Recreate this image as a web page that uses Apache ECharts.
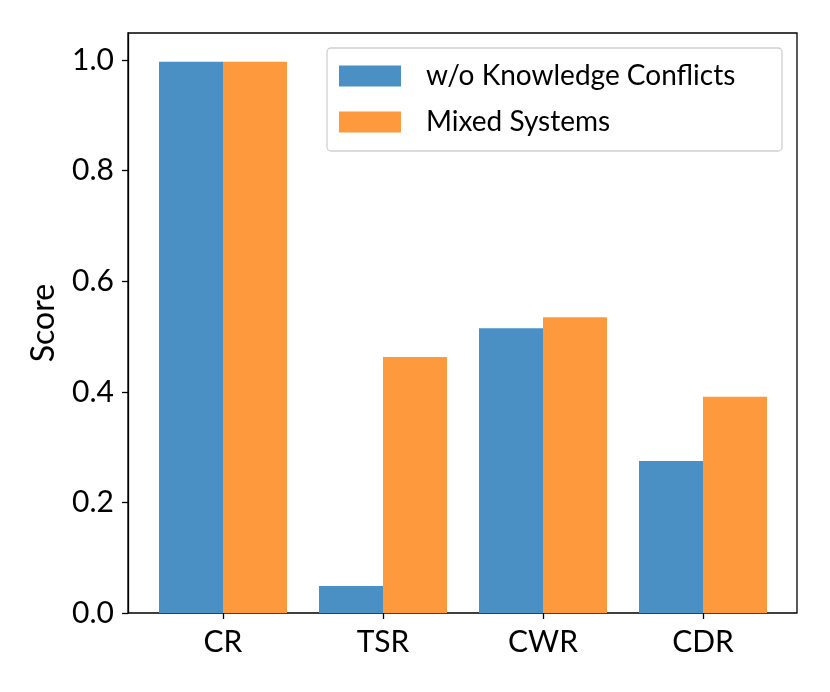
<!DOCTYPE html>
<html><head><meta charset="utf-8">
<script src="https://cdn.jsdelivr.net/npm/echarts@6/dist/echarts.min.js"></script>
<style>html,body{margin:0;padding:0;background:#fff}#c{width:830px;height:692px}</style>
</head><body><div id="c"></div>
<script>
const categories = ['CR', 'TSR', 'CWR', 'CDR'];
const seriesNames = ['w/o Knowledge Conflicts', 'Mixed Systems'];
const noConflict = [0.997, 0.049, 0.515, 0.275];
const mixed = [0.997, 0.463, 0.535, 0.391];
const yTicks = [0.0, 0.2, 0.4, 0.6, 0.8, 1.0];

const FONT = 'Lato';
const chart = echarts.init(document.getElementById('c'));
chart.setOption({
  animation: false,
  textStyle: { fontFamily: FONT, color: '#000' },
  grid: [
    { left: 128, top: 33, right: 33, bottom: 79, show: true, borderColor: '#000', borderWidth: 1.3, backgroundColor: 'transparent' },
    { left: 143, top: 33, right: 47, bottom: 79 }
  ],
  xAxis: [
    { gridIndex: 0, type: 'value', show: false, min: 0, max: 1 },
    { gridIndex: 1, type: 'category', data: categories,
      axisLine: { show: false },
      axisTick: { show: true, alignWithLabel: true, length: 6, lineStyle: { color: '#000', width: 1.3 } },
      axisLabel: { fontSize: 30, color: '#000', margin: 14, fontFamily: FONT } }
  ],
  yAxis: [
    { gridIndex: 0, type: 'value', min: 0, max: 1.049, interval: 0.2,
      name: 'Score', nameLocation: 'middle', nameGap: 68, nameRotate: 90,
      nameTextStyle: { fontSize: 32, color: '#000', fontFamily: FONT },
      axisLine: { show: true, lineStyle: { color: '#000', width: 1.3 } },
      axisTick: { show: true, length: 6, lineStyle: { color: '#000', width: 1.3 } },
      splitLine: { show: false },
      axisLabel: { fontSize: 30, color: '#000', margin: 14, fontFamily: FONT, showMaxLabel: false,
        formatter: v => yTicks.some(t => Math.abs(t - v) < 1e-6) ? v.toFixed(1) : '' } },
    { gridIndex: 1, type: 'value', min: 0, max: 1.049, show: false }
  ],
  legend: {
    left: 327, top: 48, orient: 'vertical',
    itemWidth: 62, itemHeight: 21, itemGap: 18,
    padding: [14, 14, 15, 12],
    borderColor: '#d0d0d0', borderWidth: 1.3, borderRadius: 4,
    icon: 'rect',
    textStyle: { fontSize: 28, color: '#000', fontFamily: FONT, lineHeight: 21, width: 342, padding: [0, 0, 0, 20] },
    data: seriesNames
  },
  series: [
    { name: seriesNames[0], type: 'bar', xAxisIndex: 1, yAxisIndex: 1, data: noConflict,
      barWidth: 64, barGap: '0%', itemStyle: { color: '#4a90c4' } },
    { name: seriesNames[1], type: 'bar', xAxisIndex: 1, yAxisIndex: 1, data: mixed,
      barWidth: 64, barGap: '0%', itemStyle: { color: '#ff993e' } }
  ]
});
</script></body></html>
